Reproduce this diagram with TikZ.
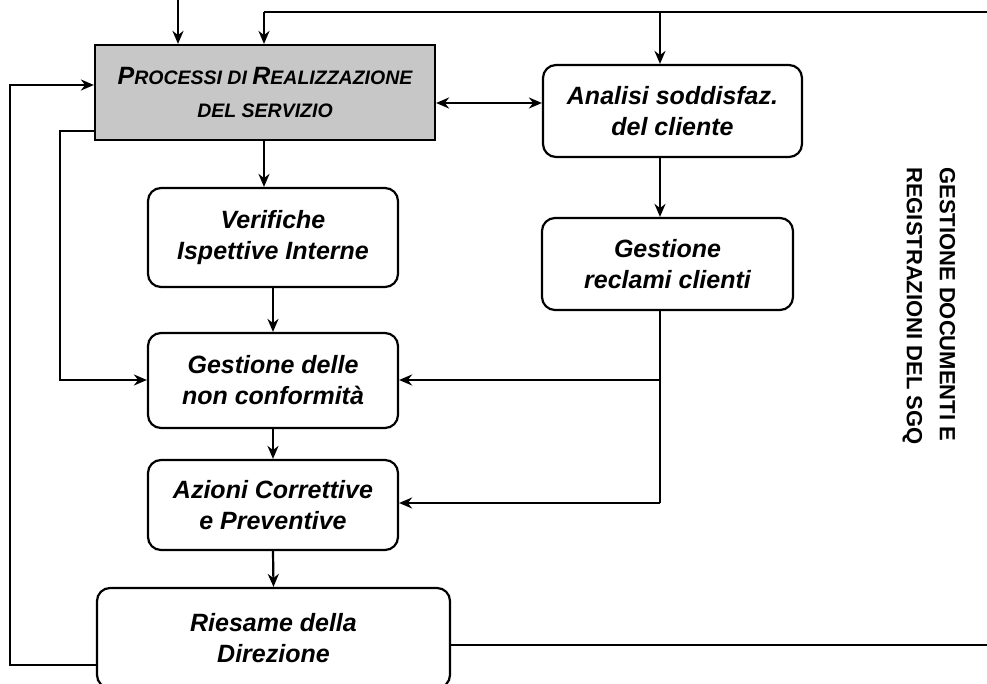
\documentclass[tikz,border=0pt]{standalone}
\usepackage{fontspec}
\setmainfont{Liberation Sans}
\usetikzlibrary{arrows.meta,calc}
\begin{document}
\begin{tikzpicture}[x=1pt,y=-1pt,
  line width=2.2pt,
  arr/.style={-{Stealth[length=13pt,width=11pt]}},
  darr/.style={{Stealth[length=13pt,width=11pt]}-{Stealth[length=13pt,width=11pt]}},
  box/.style={draw,rounded corners=13pt,align=center,inner sep=0pt,
    font=\fontsize{25}{31}\selectfont\bfseries\itshape},
  pbox/.style={draw,fill=black!22,align=center,inner sep=0pt,
    font=\fontsize{19.5}{33}\selectfont\bfseries\itshape},
  side/.style={align=left,inner sep=0pt,rotate=-90,
    font=\fontsize{22}{33}\selectfont\bfseries}]
\useasboundingbox (0,0) rectangle (987,684);
\coordinate (rx) at (660,0);
\coordinate (tl) at (264,12);
\coordinate (tr) at (987,12);
\coordinate (ti) at (178,0);
\coordinate (rr) at (987,645);
% boxes
\node[pbox,minimum width=340pt,minimum height=95pt] (P) at (265,92.5)
  {{\fontsize{25}{33}\selectfont P}ROCESSI DI {\fontsize{25}{33}\selectfont R}EALIZZAZIONE\\DEL SERVIZIO};
\node[box,minimum width=259pt,minimum height=92pt] (A) at (672.5,111) {Analisi soddisfaz.\\del cliente};
\node[box,minimum width=251pt,minimum height=92pt] (G) at (667.5,264) {Gestione\\reclami clienti};
\node[box,minimum width=250pt,minimum height=99pt] (V) at (273,237.5) {Verifiche\\Ispettive Interne};
\node[box,minimum width=250pt,minimum height=95pt] (N) at (273,380.5) {Gestione delle\\non conformità};
\node[box,minimum width=250pt,minimum height=90pt] (C) at (273,505) {Azioni Correttive\\e Preventive};
\node[box,minimum width=353pt,minimum height=100pt] (R) at (273.5,638) {Riesame della\\Direzione};
\node[side] (S) at (929,306) {GESTIONE DOCUMENTI E\\REGISTRAZIONI DEL SGQ};
% connectors
\draw[arr] (ti) -- (P.north -| ti);
\draw (tr) -- (tl);
\draw[arr] (tl) -- (P.north -| tl);
\draw[arr] (tr -| rx) -- (A.north -| rx);
\draw[darr] (P.east |- 0,103) -- (A.west |- 0,103);
\draw[arr] (A.south -| rx) -- (G.north -| rx);
\draw[arr] (P.south -| tl) -- (V.north -| tl);
\draw[arr] (V) -- (N);
\draw[arr] (N) -- (C);
\draw[arr] (C.south) -- (R.north);
\draw (G.south -| rx) -- (rx |- 0,503);
\draw[arr] (rx |- 0,380) -- (N.east |- 0,380);
\draw[arr] (rx |- 0,503) -- (C.east |- 0,503);
\draw[arr] (R.west |- 0,665) -- (10,665) -- (10,85) -- (P.west |- 0,85);
\draw[arr] (P.west |- 0,131) -- (60,131) -- (60,380) -- (N.west |- 0,380);
\draw (R.east |- rr) -- (rr);
\end{tikzpicture}
\end{document}
